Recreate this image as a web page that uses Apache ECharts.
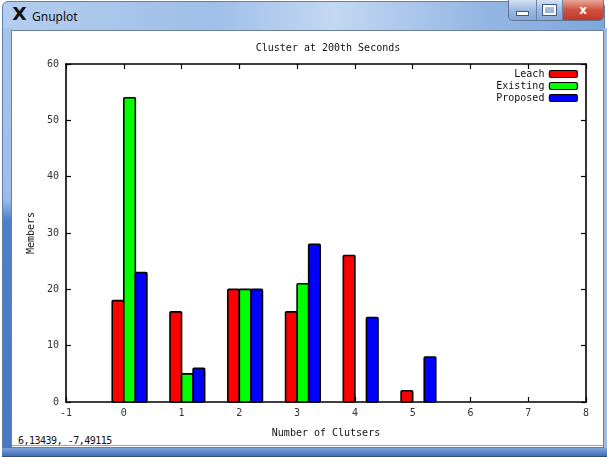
<!DOCTYPE html>
<html>
<head>
<meta charset="utf-8">
<script src="https://cdn.jsdelivr.net/npm/echarts@6/dist/echarts.min.js"></script>
<style>
  html, body { margin:0; padding:0; width:607px; height:457px; overflow:hidden; background:#fff; }
  .abs { position:absolute; }
  #titlebar { left:2px; top:1px; width:603px; height:32px; border-radius:6px 6px 0 0;
    background: linear-gradient(to right, #b3cdee 0%, #9fbfe9 35%, #c3d8f2 55%, #94b6e4 80%, #7fa7dd 100%);
    border:1px solid #5c7fae; box-sizing:border-box; }
  #leftframe { left:2px; top:28px; width:10px; height:428px;
    background: linear-gradient(to bottom, #a8c4ea 0%, #9dbde8 40%, #4d80c8 45%, #4779c2 100%); border-left:1px solid #5c7fae; box-sizing:border-box; }
  #rightframe { left:603px; top:28px; width:4px; height:428px; background:#9fbbe0; }
  #bottomframe { left:2px; top:448px; width:605px; height:9px;
    background: linear-gradient(to bottom, #7ea3d8, #3f6fb8); border-bottom:1px solid #2b4f88; box-sizing:border-box; }
  #client { left:11px; top:30px; width:593px; height:418px; background:#fff; border:1px solid #6c7f99; box-sizing:border-box; }
  #statusline { left:12px; top:445px; width:591px; height:1px; background:#9aa6b6; }
  #status { left:18px; top:435px; font: 10px "DejaVu Sans Mono", monospace; color:#111; letter-spacing:-0.5px; }
  #wtitle { left:32px; top:8px; font: 12px "Noto Sans", "DejaVu Sans", sans-serif; color:#111; }
  #xicon { left:13px; top:4px; font: bold 17px "DejaVu Sans", sans-serif; color:#111; transform:scaleX(1.1); }
  #btns { left:508px; top:0px; width:96px; height:21px; border:1px solid #5f7390; border-top:none; border-radius:0 0 5px 5px; overflow:hidden; box-sizing:border-box; display:flex; }
  .btn { height:100%; box-sizing:border-box; border-right:1px solid #6c83a8; display:flex; align-items:center; justify-content:center; }
  #bmin { width:28px; background:linear-gradient(to bottom,#d4e2f4,#9db9e0 50%,#86a6d6); }
  #bmax { width:26px; background:linear-gradient(to bottom,#d4e2f4,#9db9e0 50%,#86a6d6); }
  #bclose { width:40px; border-right:none; background:linear-gradient(to bottom,#e8a89a,#d0503e 50%,#c0382a); color:#fff; font: bold 12px "DejaVu Sans", sans-serif; }
  #chart { left:0; top:0; width:607px; height:457px; }
</style>
</head>
<body>
<div id="titlebar" class="abs"></div>
<div id="xicon" class="abs">X</div>
<div id="wtitle" class="abs">Gnuplot</div>
<div id="btns" class="abs">
  <div id="bmin" class="btn"><div style="width:11px;height:3px;background:#fff;border:1px solid #3d5a86;margin-top:6px"></div></div>
  <div id="bmax" class="btn"><div style="width:9px;height:6px;border:2px solid #fff;outline:1px solid #3d5a86"></div></div>
  <div id="bclose" class="btn">x</div>
</div>
<div id="leftframe" class="abs"></div>
<div id="rightframe" class="abs"></div>
<div id="client" class="abs"></div>
<div id="statusline" class="abs"></div>
<div id="status" class="abs">6,13439, -7,49115</div>
<div id="bottomframe" class="abs"></div>
<div id="chart" class="abs"></div>
<script>
const categories = [0, 1, 2, 3, 4, 5];
const leach    = [18, 16, 20, 16, 26, 2];
const existing = [54, 5, 20, 21, 0, 0];
const proposed = [23, 6, 20, 28, 15, 8];
const xTicks = [-1, 0, 1, 2, 3, 4, 5, 6, 7, 8];
const yTicks = [0, 10, 20, 30, 40, 50, 60];
const seriesNames = ['Leach', 'Existing', 'Proposed'];
const colors = ['#ff0000', '#00ff00', '#0000ff'];

const MONO = '"DejaVu Sans Mono", monospace';
const BAR_W = 0.2;
const offsets = [-0.1, 0.1, 0.3];

function makeSeries(name, values, idx) {
  return {
    name: name,
    type: 'custom',
    xAxisIndex: 0, yAxisIndex: 0,
    itemStyle: { color: colors[idx], borderColor: '#000', borderWidth: 1 },
    data: categories.map((c, i) => [c, values[i]]),
    renderItem: function (params, api) {
      const v = api.value(1);
      if (!v) return null;
      const x = api.value(0) + offsets[idx];
      const p0 = api.coord([x - BAR_W / 2, v]);
      const p1 = api.coord([x + BAR_W / 2, 0]);
      return {
        type: 'rect',
        shape: { x: p0[0], y: p0[1], width: p1[0] - p0[0], height: p1[1] - p0[1], r: 1 },
        style: { fill: colors[idx], stroke: '#000', lineWidth: 1.6 }
      };
    },
    z: 2
  };
}

const axisCommon = {
  type: 'value',
  axisLine: { show: true, onZero: false, lineStyle: { color: '#000', width: 1.6 } },
  axisTick: { show: true, inside: true, length: 5, lineStyle: { color: '#000', width: 1.2 } },
  splitLine: { show: false }
};

const chart = echarts.init(document.getElementById('chart'), null, { renderer: 'canvas' });
chart.setOption({
  backgroundColor: 'transparent',
  animation: false,
  title: {
    text: 'Cluster at 200th Seconds',
    left: 323, top: 38, textAlign: 'center',
    textStyle: { fontFamily: MONO, fontSize: 10, fontWeight: 'normal', color: '#111' }
  },
  legend: {
    orient: 'vertical',
    right: 29, top: 68, padding: 0,
    align: 'right',
    itemWidth: 28, itemHeight: 7, itemGap: 0,
    textStyle: { fontFamily: MONO, fontSize: 10, color: '#111', lineHeight: 12, padding: [0, 0, 0, 0] },
    data: seriesNames.map((n, i) => ({
      name: n, icon: 'roundRect',
      itemStyle: { color: colors[i], borderColor: '#000', borderWidth: 1.2 }
    }))
  },
  grid: { left: 66, right: 21, top: 64, bottom: 55 },
  xAxis: [
    Object.assign({}, axisCommon, {
      position: 'bottom', min: xTicks[0], max: xTicks[xTicks.length - 1], interval: 1,
      name: 'Number of Clutsers', nameLocation: 'middle', nameGap: 26,
      nameTextStyle: { fontFamily: MONO, fontSize: 10, color: '#111' },
      axisLabel: { margin: 6, fontFamily: MONO, fontSize: 10, color: '#333' }
    }),
    Object.assign({}, axisCommon, {
      position: 'top', min: xTicks[0], max: xTicks[xTicks.length - 1], interval: 1,
      axisLabel: { show: false }
    })
  ],
  yAxis: [
    Object.assign({}, axisCommon, {
      position: 'left', min: yTicks[0], max: yTicks[yTicks.length - 1], interval: 10,
      name: 'Members', nameLocation: 'middle', nameGap: 30, nameRotate: 90,
      nameTextStyle: { fontFamily: MONO, fontSize: 10, color: '#111' },
      axisLabel: { margin: 7, fontFamily: MONO, fontSize: 10, color: '#333' }
    }),
    Object.assign({}, axisCommon, {
      position: 'right', min: yTicks[0], max: yTicks[yTicks.length - 1], interval: 10,
      axisLabel: { show: false }
    })
  ],
  series: [
    makeSeries(seriesNames[0], leach, 0),
    makeSeries(seriesNames[1], existing, 1),
    makeSeries(seriesNames[2], proposed, 2)
  ]
});
</script>
</body>
</html>
